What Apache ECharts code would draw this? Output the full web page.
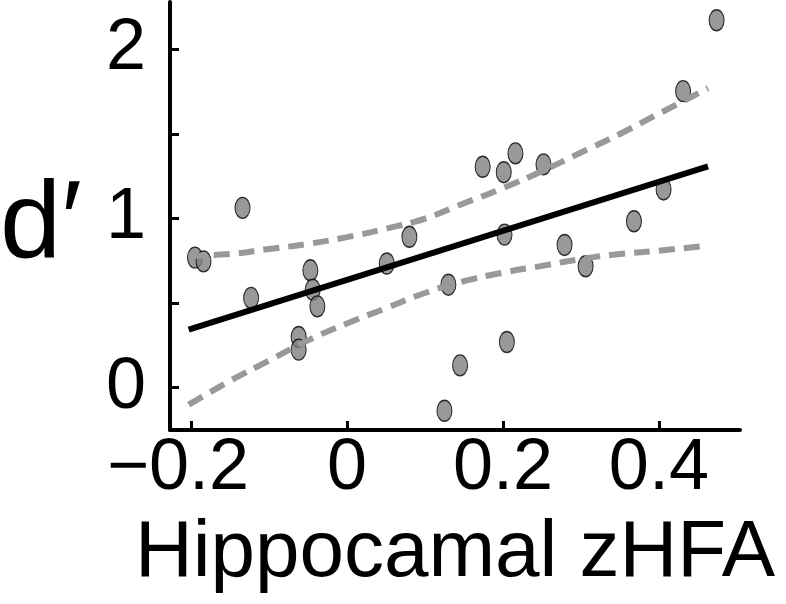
<!DOCTYPE html>
<html>
<head>
<meta charset="utf-8">
<script src="https://cdn.jsdelivr.net/npm/echarts@6/dist/echarts.min.js"></script>
<style>
  html, body { margin: 0; padding: 0; background: #fff; }
  #chart { width: 786px; height: 604px; }
</style>
</head>
<body>
<div id="chart"></div>
<script>
// scatter points (Hippocampal zHFA vs d')
var xVals = [-0.195, -0.184, -0.134, -0.123, -0.062, -0.062, -0.047, -0.044, -0.038, 0.051,
             0.080, 0.125, 0.130, 0.145, 0.174, 0.201, 0.216, 0.202, 0.205, 0.252,
             0.279, 0.306, 0.368, 0.406, 0.431, 0.474];
var yVals = [0.769, 0.747, 1.063, 0.531, 0.300, 0.225, 0.694, 0.580, 0.481, 0.734,
             0.892, -0.136, 0.609, 0.132, 1.306, 1.274, 1.385, 0.905, 0.270, 1.320,
             0.844, 0.718, 0.984, 1.172, 1.753, 2.172];

// regression line end points
var fitX = [-0.203, 0.463];
var fitY = [0.343, 1.309];

// confidence band (dashed)
var ciX     = [-0.203, -0.15, -0.10, -0.05, 0.0, 0.05, 0.10, 0.15, 0.20, 0.25, 0.30, 0.35, 0.40, 0.463];
var ciUpper = [0.78, 0.79, 0.82, 0.85, 0.89, 0.94, 1.00, 1.09, 1.18, 1.28, 1.39, 1.50, 1.62, 1.77];
var ciLower = [-0.10, 0.04, 0.16, 0.28, 0.38, 0.47, 0.56, 0.63, 0.68, 0.72, 0.76, 0.79, 0.81, 0.84];

var xTicks = [-0.2, 0, 0.2, 0.4];
var yTicks = [0, 0.5, 1, 1.5, 2];
var yLabels = [0, 1, 2];

function zip(a, b) {
  return a.map(function (v, i) { return [v, b[i]]; });
}

var font = '"Liberation Sans", Arial, Helvetica, sans-serif';
var chart = echarts.init(document.getElementById('chart'));

var option = {
  animation: false,
  grid: { left: 170, right: 46, top: 2, bottom: 174, containLabel: false },
  graphic: [{
    type: 'text',
    left: 0,
    top: 172,
    style: { text: 'd\u2032', fontSize: 110, fill: '#000', fontFamily: font }
  }],
  xAxis: {
    type: 'value',
    min: -0.227,
    max: 0.504,
    name: 'Hippocamal zHFA',
    nameLocation: 'middle',
    nameGap: 84,
    nameTextStyle: { fontSize: 80, color: '#000', fontFamily: font },
    axisLine: { onZero: false, lineStyle: { color: '#000', width: 4 } },
    axisTick: { inside: true, length: 9, customValues: xTicks, lineStyle: { color: '#000', width: 3 } },
    axisLabel: {
      customValues: xTicks,
      margin: 3,
      fontSize: 72,
      color: '#000',
      fontFamily: font,
      formatter: function (v) { return v < 0 ? '{neg|\u2212' + (-v) + '}' : String(v); },
      rich: {
        neg: { fontSize: 72, fontFamily: font, color: '#000', padding: [0, 26, 0, 0] }
      }
    },
    splitLine: { show: false }
  },
  yAxis: {
    type: 'value',
    min: -0.25,
    max: 2.28,
    axisLine: { onZero: false, lineStyle: { color: '#000', width: 4 } },
    axisTick: { inside: true, length: 9, customValues: yTicks, lineStyle: { color: '#000', width: 3 } },
    axisLabel: {
      customValues: yLabels,
      margin: 24,
      fontSize: 72,
      color: '#000',
      fontFamily: font
    },
    splitLine: { show: false }
  },
  series: [
    {
      type: 'scatter',
      data: zip(xVals, yVals),
      symbol: 'circle',
      symbolSize: [15, 21],
      itemStyle: { color: '#808080', borderColor: '#000', borderWidth: 1.2 },
      z: 2
    },
    {
      type: 'line',
      data: zip(ciX, ciUpper),
      smooth: true,
      showSymbol: false,
      lineStyle: { color: '#999', width: 6, type: [16, 9] },
      z: 3
    },
    {
      type: 'line',
      data: zip(ciX, ciLower),
      smooth: true,
      showSymbol: false,
      lineStyle: { color: '#999', width: 6, type: [16, 9] },
      z: 3
    },
    {
      type: 'line',
      data: zip(fitX, fitY),
      showSymbol: false,
      lineStyle: { color: '#000', width: 6 },
      z: 4
    }
  ]
};

chart.setOption(option);
</script>
</body>
</html>
